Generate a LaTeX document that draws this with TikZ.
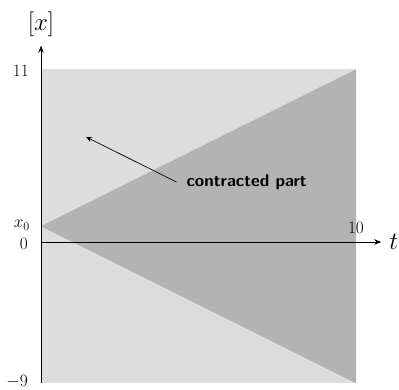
\documentclass[tikz,border=0pt]{standalone}
\usetikzlibrary{arrows.meta}
\definecolor{lightregion}{RGB}{221,221,221}
\definecolor{darkregion}{RGB}{179,179,179}
\tikzset{
  axisline/.style={line width=0.9pt,-{Stealth[length=7pt,width=5.5pt]}},
  ticklab/.style={inner sep=0pt,font=\fontsize{18}{22}\selectfont},
  axislab/.style={inner sep=0pt,font=\fontsize{25}{29}\selectfont},
  notelab/.style={inner xsep=10pt,inner ysep=0pt,font=\fontsize{17}{21}\selectfont\sffamily\bfseries},
}
\begin{document}
\begin{tikzpicture}[x=31.5pt,y=15.7pt]
\useasboundingbox (-41pt,-148pt) rectangle (358pt,242pt);
\fill[lightregion] (0,-9) rectangle (10,11);
\fill[darkregion] (0,1) -- (10,11) -- (10,-9) -- cycle;
\coordinate (ybot) at (0,-9);
\coordinate (ytop) at (0,12.5);
\coordinate (xleft) at (0,0);
\coordinate (xright) at (10.8,0);
\draw[axisline] (ybot) -- (ytop);
\draw[axisline] (xleft) -- (xright);
\node[axislab,anchor=center] (xlab) at (0,13.85) {$[x]$};
\node[axislab,anchor=west,font=\fontsize{28}{32}\selectfont] (tlab) at (11.05,0) {$t$};
\node[ticklab,anchor=east] (l11) at ([xshift=-12pt]0,10.9) {$11$};
\node[ticklab,anchor=east] (lx0) at ([xshift=-11pt]0,1.05) {$x_0$};
\node[ticklab,anchor=east] (l0) at ([xshift=-13pt]0,-0.1) {$0$};
\node[ticklab,anchor=east] (lm9) at ([xshift=-13pt]0,-8.9) {$-9$};
\node[ticklab,anchor=south] (l10) at ([yshift=8pt]10,0) {$10$};
\node[notelab,anchor=west] (note) at (4.3,3.82) {contracted part};
\coordinate (tip) at (1.43,6.69);
\draw[line width=0.7pt,-{Stealth[length=6pt,width=5pt]}] (note.west) -- (tip);
\end{tikzpicture}
\end{document}
